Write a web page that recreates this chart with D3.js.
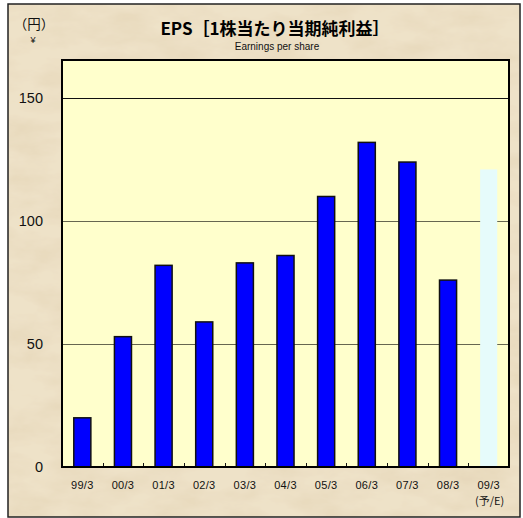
<!DOCTYPE html>
<html lang="ja">
<head>
<meta charset="utf-8">
<title>EPS</title>
<script src="https://cdn.jsdelivr.net/npm/d3@7"></script>
<style>
  body { margin: 0; background: #fff; }
  text { font-family: "Liberation Sans", "Noto Sans CJK JP", sans-serif; fill: #111; }
  .jp { font-family: "Noto Sans CJK JP", sans-serif; }
</style>
</head>
<body>
<script>
// data
var years = ["99/3", "00/3", "01/3", "02/3", "03/3", "04/3", "05/3", "06/3", "07/3", "08/3", "09/3"];
var eps = [20, 53, 82, 59, 83, 86, 110, 132, 124, 76, 121];
var forecast = [false, false, false, false, false, false, false, false, false, false, true];
var yTicks = [0, 50, 100, 150];

var W = 523, H = 518;
var margin = {top: 60, right: 14, bottom: 51, left: 62};
var width = W - margin.left - margin.right,
    height = H - margin.top - margin.bottom;

var svg = d3.select("body").append("svg")
    .attr("width", W)
    .attr("height", H);

// parchment texture
var defs = svg.append("defs");
var f = defs.append("filter").attr("id", "paper")
    .attr("x", 0).attr("y", 0).attr("width", "100%").attr("height", "100%");
f.append("feTurbulence").attr("type", "fractalNoise")
    .attr("baseFrequency", "0.02 0.045").attr("numOctaves", 5).attr("seed", 3)
    .attr("result", "noise");
f.append("feColorMatrix").attr("in", "noise").attr("type", "matrix")
    .attr("values", "0 0 0 0 0.80  0 0 0 0 0.69  0 0 0 0 0.50  0 0 0 -1.8 1.2")
    .attr("result", "tint");
f.append("feFlood").attr("flood-color", "#eee2c8").attr("result", "base");
f.append("feComposite").attr("in", "tint").attr("in2", "base").attr("operator", "over");

svg.append("rect").attr("width", W).attr("height", H).attr("fill", "#fff");
svg.append("rect")
    .attr("x", 8).attr("y", 4).attr("width", 512).attr("height", 513)
    .attr("filter", "url(#paper)");
svg.append("rect")
    .attr("x", 8).attr("y", 4).attr("width", 512).attr("height", 513)
    .attr("fill", "none").attr("stroke", "#222").attr("stroke-width", 1.5);

// titles
svg.append("text").attr("class", "jp").attr("x", 275).attr("y", 35)
    .attr("text-anchor", "middle").attr("font-size", 17).attr("font-weight", "bold")
    .style("fill", "#000")
    .text("EPS［1株当たり当期純利益］");
svg.append("text").attr("x", 277).attr("y", 50)
    .attr("text-anchor", "middle").attr("font-size", 10)
    .text("Earnings per share");
svg.append("text").attr("class", "jp").attr("x", 34).attr("y", 29)
    .attr("text-anchor", "middle").attr("font-size", 13.5)
    .text("（円）");
svg.append("text").attr("x", 33).attr("y", 43)
    .attr("text-anchor", "middle").attr("font-size", 9)
    .text("¥");

var g = svg.append("g")
    .attr("transform", "translate(" + margin.left + "," + margin.top + ")");

var x = d3.scaleBand().domain(years).range([0, width]).paddingInner(0.58).paddingOuter(0.29);
var xb = d3.scaleBand().domain(years).range([0, width]);
var y = d3.scaleLinear().domain([0, 165.5]).range([height, 0]);

// plot area
g.append("rect").attr("width", width).attr("height", height).attr("fill", "#ffffcc");

// gridlines
g.selectAll(".grid").data(yTicks.filter(function(d) { return d > 0; }))
  .enter().append("line")
    .attr("class", "grid")
    .attr("x1", 0).attr("x2", width)
    .attr("y1", function(d) { return Math.round(y(d)) + 0.5; })
    .attr("y2", function(d) { return Math.round(y(d)) + 0.5; })
    .attr("stroke", function(d) { return d == 150 ? "#111" : "#666650"; })
    .attr("stroke-width", 1);

// bars
g.selectAll(".bar").data(years)
  .enter().append("rect")
    .attr("class", "bar")
    .attr("x", function(d) { return x(d); })
    .attr("width", x.bandwidth())
    .attr("y", function(d, i) { return y(eps[i]); })
    .attr("height", function(d, i) { return height - y(eps[i]); })
    .attr("fill", function(d, i) { return forecast[i] ? "#e6fbfb" : "#0000ff"; })
    .attr("stroke", function(d, i) { return forecast[i] ? "none" : "#111"; })
    .attr("stroke-width", 1.5);

// small inward ticks between categories
g.selectAll(".tk").data(years.slice(1))
  .enter().append("line")
    .attr("x1", function(d) { return Math.round(xb(d)) + 0.5; })
    .attr("x2", function(d) { return Math.round(xb(d)) + 0.5; })
    .attr("y1", height).attr("y2", height - 4)
    .attr("stroke", "#111");

// frame of plot
g.append("rect").attr("width", width).attr("height", height)
    .attr("fill", "none").attr("stroke", "#000").attr("stroke-width", 2);

// y labels
g.selectAll(".ylab").data(yTicks)
  .enter().append("text")
    .attr("x", -19).attr("y", function(d) { return y(d); })
    .attr("dy", "0.36em").attr("text-anchor", "end")
    .attr("font-size", 14.5)
    .text(function(d) { return d; });

// x labels
g.selectAll(".xlab").data(years)
  .enter().append("text")
    .attr("x", function(d) { return xb(d) + xb.bandwidth() / 2; })
    .attr("y", height + 22)
    .attr("text-anchor", "middle").attr("font-size", 11)
    .style("letter-spacing", "0.3px")
    .text(function(d) { return d; });
g.append("text").attr("class", "jp")
    .attr("x", xb("09/3") + xb.bandwidth() / 2 + 1).attr("y", height + 38)
    .attr("text-anchor", "middle").attr("font-size", 11)
    .text("(予/E)");
</script>
</body>
</html>
